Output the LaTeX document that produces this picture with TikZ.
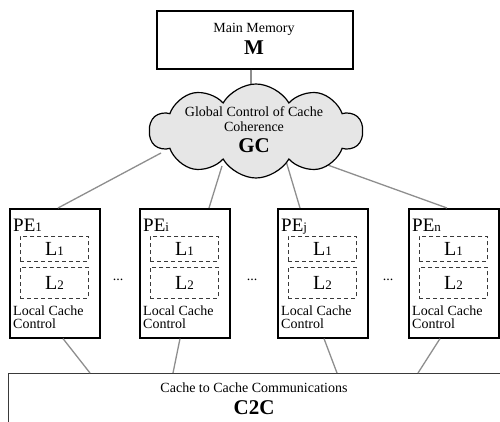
\documentclass[tikz,border=0pt]{standalone}
\usepackage{fontspec}
\setmainfont{Liberation Serif}
\usetikzlibrary{shapes.symbols,calc}
\definecolor{wiregray}{HTML}{8E8E8E}
\definecolor{cloudgray}{HTML}{E6E6E6}
\definecolor{framegray}{HTML}{3A3A3A}
\newcommand{\fs}[1]{\fontsize{#1}{#1}\selectfont}
\newcommand{\idx}[1]{{\fs{13}#1}}
\begin{document}
\begin{tikzpicture}[x=1pt,y=-1pt,
  wire/.style={draw=wiregray,line width=1.3pt},
  mainbox/.style={draw,line width=1.7pt,minimum width=196pt,minimum height=58pt,anchor=north west,inner sep=0pt},
  pebox/.style={draw,line width=1.6pt,fill=white,minimum width=90pt,minimum height=129pt,anchor=north west,inner sep=0pt},
  cachebox/.style={draw=framegray,dashed,dash pattern=on 4pt off 3pt,line width=0.9pt,minimum width=68pt,anchor=north west,inner sep=0pt,font=\fs{20}},
  txt/.style={inner sep=0pt,anchor=base},
  dots/.style={inner sep=0pt,anchor=base,font=\fs{14}},
]
\useasboundingbox (0,0) rectangle (500,422);
\clip (0,0) rectangle (500,422);

% main memory
\node[mainbox] (mm) at (156,10) {};
\node[txt,font=\fs{14}] (mmtxt) at (254,33) {Main Memory};
\node[txt,font=\fs{21}\bfseries] (mmsym) at (254,55) {M};

% processing elements
\foreach \n/\x/\s in {pe1/9/1, pei/139/i, pej/277/j, pen/408/n}{
  \node[pebox] (\n) at (\x,208) {};
  \node[inner sep=0pt,anchor=base west,font=\fs{19}] (\n-lbl) at (\x+4,231) {PE\idx{\s}};
  \node[cachebox,minimum height=25pt] (\n-l1) at (\x+11,236) {L\idx{1}};
  \node[cachebox,minimum height=31pt] (\n-l2) at (\x+11,267) {L\idx{2}};
  \node[inner sep=0pt,anchor=north west,align=left,font=\fontsize{14}{13.5}\selectfont] (\n-ctl) at (\x+4,305.5) {Local Cache\\Control};
}

\node[dots] (d1) at (118,280) {...};
\node[dots] (d2) at (252,280) {...};
\node[dots] (d3) at (388,280) {...};

% cache-to-cache bus
\node[draw=framegray,line width=1.2pt,minimum width=520pt,minimum height=80pt,anchor=north west,inner sep=0pt] (c2c) at (8,373) {};
\node[txt,font=\fs{14}] (c2ctxt) at (254,392) {Cache to Cache Communications};
\node[txt,font=\fs{21}\bfseries] (c2csym) at (254,414) {C2C};

% links to the bus
\draw[wire] ($(pe1.south west)+(54,0)$) -- ($(c2c.north west)+(82,0)$);
\draw[wire] ($(pei.south west)+(41,0)$) -- ($(c2c.north west)+(165,0)$);
\draw[wire] ($(pej.south west)+(47,0)$) -- ($(c2c.north west)+(329,0)$);
\draw[wire] ($(pen.south west)+(32,0)$) -- ($(c2c.north west)+(410,0)$);

% global coherence control
\coordinate (gcc) at (256,131);
\draw[wire] (mm.south -| 251,0) -- (251,131);
\draw[wire] ($(gcc)+(-95,22)$) -- ($(pe1.north west)+(49,0)$);
\draw[wire] ($(gcc)+(-34,35)$) -- ($(pei.north west)+(70,0)$);
\draw[wire] ($(gcc)+(30,30)$) -- ($(pej.north west)+(23,0)$);
\draw[wire] ($(gcc)+(55,28)$) -- ($(pen.north west)+(39,0)$);
\node[cloud,draw,fill=cloudgray,line width=1.2pt,cloud puffs=10,cloud puff arc=120,aspect=2.2,minimum width=213pt,minimum height=94pt,inner sep=0pt] (gc) at (gcc) {};
\node[txt,font=\fs{14}] (gctxt1) at (254,117) {Global Control of Cache};
\node[txt,font=\fs{14}] (gctxt2) at (254,132) {Coherence};
\node[txt,font=\fs{21}\bfseries] (gcsym) at (254,153) {GC};
\end{tikzpicture}
\end{document}
